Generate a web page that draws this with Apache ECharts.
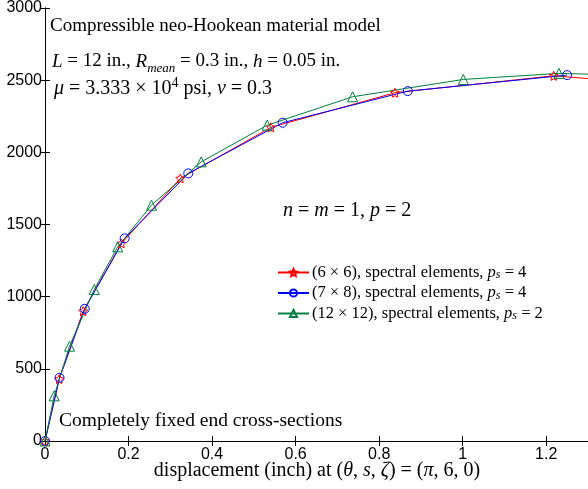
<!DOCTYPE html>
<html><head><meta charset="utf-8">
<script src="https://cdn.jsdelivr.net/npm/echarts@6/dist/echarts.min.js"></script>
<style>html,body{margin:0;padding:0;background:#fff}#c{width:588px;height:489px}</style>
</head><body><div id="c"></div>
<script>
// Data
const redX = [0, 0.034, 0.0914, 0.183, 0.324, 0.541, 0.838, 1.218, 1.40];
const redY = [0, 429, 900, 1369, 1819, 2173, 2413, 2530, 2488];
const blueX = [0, 0.0348, 0.0953, 0.1907, 0.343, 0.569, 0.8685, 1.25];
const blueY = [0, 438, 916, 1404, 1854, 2205, 2424, 2535];
const greenX = [0, 0.022, 0.0587, 0.118, 0.174, 0.255, 0.374, 0.532, 0.7365, 1.0015, 1.2305, 1.45];
const greenY = [0, 313, 657, 1050, 1345, 1634, 1934, 2188, 2385, 2505, 2547, 2530];
const seriesNames = ['(6 × 6), spectral elements, {i|p}{sub|s} = 4',
                     '(7 × 8), spectral elements, {i|p}{sub|s} = 4',
                     '(12 × 12), spectral elements, {i|p}{sub|s} = 2'];
const xTicks = [0, 0.2, 0.4, 0.6, 0.8, 1, 1.2];
const yTicks = [0, 500, 1000, 1500, 2000, 2500, 3000];

const SERIF = 'Liberation Serif';
const SANS = 'Liberation Sans';
const zip = (a, b) => a.map((v, i) => [v, b[i]]);
const star = 'path://M0,-10 L2.94,-4.05 9.51,-3.09 4.76,1.55 5.88,8.09 0,5 -5.88,8.09 -4.76,1.55 -9.51,-3.09 -2.94,-4.05 Z';
const rich = {
  i: {fontFamily: SERIF, fontStyle: 'italic', fontSize: 16.5},
  sub: {fontFamily: SERIF, fontStyle: 'italic', fontSize: 12, verticalAlign: 'bottom', lineHeight: 10}
};
const mkRich = (fs) => ({
  i: {fontFamily: SERIF, fontStyle: 'italic', fontSize: fs},
  sub: {fontFamily: SERIF, fontStyle: 'italic', fontSize: Math.round(fs*0.7), verticalAlign: 'bottom', lineHeight: 12, padding: [0,0,-4,0]},
  sup: {fontFamily: SERIF, fontSize: Math.round(fs*0.7), verticalAlign: 'top', lineHeight: 12, padding: [-3,0,0,0]}
});

const chart = echarts.init(document.getElementById('c'), null, {renderer: 'canvas'});
const mkSeries = (name, x, y, color, symbol, size) => ({
  name, type: 'line', data: zip(x, y), symbol, symbolSize: size,
  lineStyle: {color, width: 1}, itemStyle: {color: 'transparent', borderColor: color, borderWidth: 1},
  emphasis: {disabled: true}, animation: false, clip: true, z: 3
});
const axCommon = {
  type: 'value', axisLine: {show: true, lineStyle: {color: '#000', width: 1}},
  axisTick: {show: true, inside: true, length: 5, lineStyle: {color: '#000'}},
  splitLine: {show: false}
};
chart.setOption({
  animation: false,
  grid: {left: 45, right: -2, top: 8, bottom: 48},
  xAxis: [
    Object.assign({}, axCommon, {min: 0, max: 1.3, interval: 0.2, position: 'bottom',
      axisLabel: {fontFamily: SANS, fontSize: 16, color: '#000', margin: 6, showMaxLabel: false,
        formatter: v => xTicks.includes(Math.round(v*10)/10) ? String(Math.round(v*10)/10) : ''}}),
    Object.assign({}, axCommon, {min: 0, max: 1.3, interval: 0.2, position: 'top', axisLabel: {show: false}})
  ],
  yAxis: [
    Object.assign({}, axCommon, {min: 0, max: 3000, interval: 500, position: 'left',
      axisLabel: {fontFamily: SANS, fontSize: 16, color: '#000', margin: 3,
        formatter: v => yTicks.includes(v) ? String(v) : ''}}),
    Object.assign({}, axCommon, {min: 0, max: 3000, interval: 500, position: 'right', axisLabel: {show: false}})
  ],
  legend: {
    orient: 'vertical', left: 272, top: 259, itemWidth: 31, itemHeight: 9, itemGap: 3.5,
    data: seriesNames,
    textStyle: {fontFamily: SERIF, fontSize: 16.5, color: '#000', rich: rich, padding: [0,0,0,-2]},
    selectedMode: false
  },
  series: [
    mkSeries(seriesNames[0], redX, redY, '#ff0000', star, 9),
    mkSeries(seriesNames[1], blueX, blueY, '#0000ff', 'circle', 9),
    mkSeries(seriesNames[2], greenX, greenY, '#008040', 'triangle', 10)
  ],
  graphic: [
    {type: 'text', left: 50, top: 17, style: {text: 'Compressible neo-Hookean material model', fontFamily: SERIF, fontSize: 19, fill: '#000'}},
    {type: 'text', left: 52, top: 52, style: {text: '{i|L} = 12 in., {i|R}{sub|mean} = 0.3 in., {i|h} = 0.05 in.', font: '19px ' + SERIF, fill: '#000', rich: mkRich(19)}},
    {type: 'text', left: 54, top: 76, style: {text: '{i|μ} = 3.333 × 10{sup|4} psi, {i|ν} = 0.3', font: '20px ' + SERIF, fill: '#000', rich: mkRich(20)}},
    {type: 'text', left: 283, top: 201, style: {text: '{i|n} = {i|m} = 1, {i|p} = 2', font: '20px ' + SERIF, fill: '#000', rich: mkRich(20)}},
    {type: 'text', left: 59, top: 411, style: {text: 'Completely fixed end cross-sections', fontFamily: SERIF, fontSize: 19.5, fill: '#000'}},
    {type: 'text', x: 317, y: 471, style: {text: 'displacement (inch) at ({i|θ}, {i|s}, {i|ζ}) = ({i|π}, 6, 0)', font: '20px ' + SERIF, fill: '#000', rich: mkRich(20), align: 'center', verticalAlign: 'middle'}}
  ]
});
</script></body></html>
